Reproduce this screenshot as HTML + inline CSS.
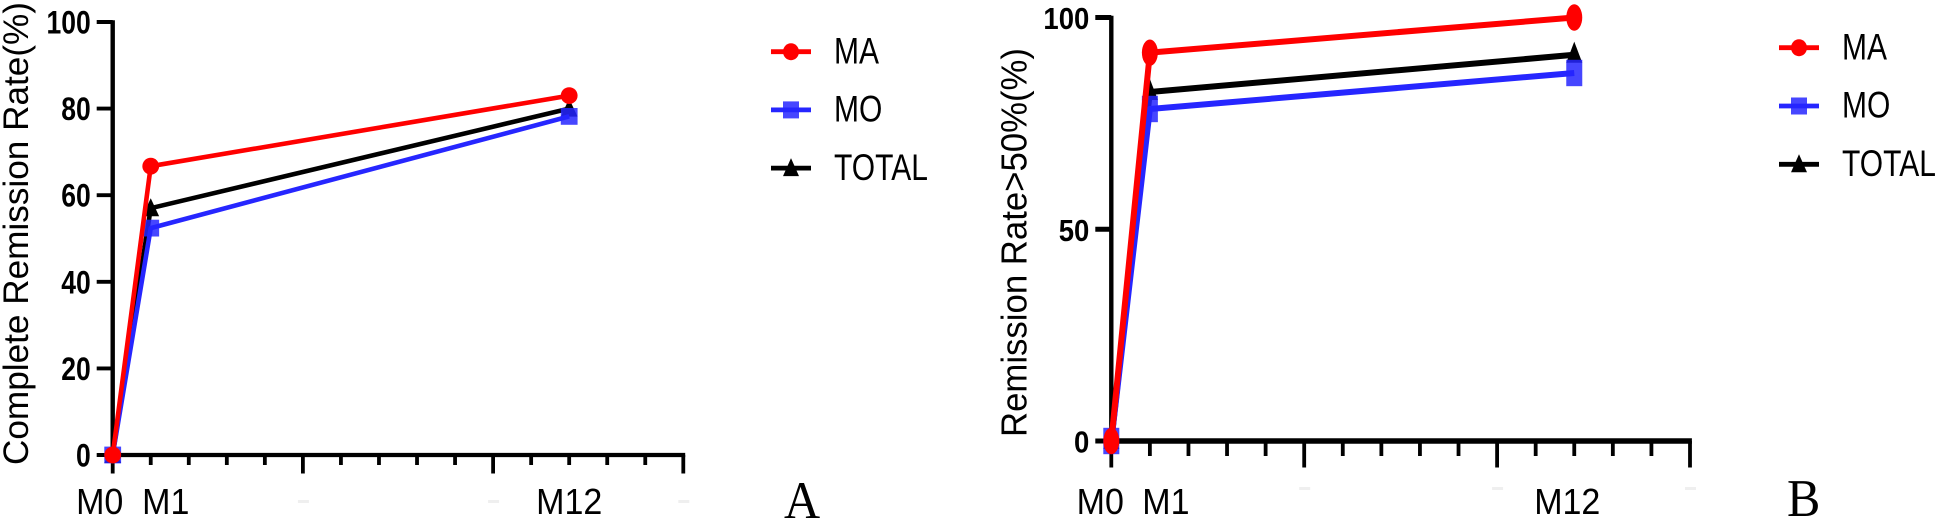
<!DOCTYPE html>
<html lang="en">
<head>
<meta charset="utf-8">
<title>Remission rate charts</title>
<style>
html,body{margin:0;padding:0;background:#fff;width:1943px;height:530px;overflow:hidden}
svg{display:block;font-family:"Liberation Sans",Arial,sans-serif}
</style>
</head>
<body>
<svg id="figure" width="1943" height="530" viewBox="0 0 1943 530" xmlns="http://www.w3.org/2000/svg">
<rect width="1943" height="530" fill="#fff"/>
</svg>
<script>
// ---- data ----
const months = [0, 1, 12];
const monthLabels = ['M0', 'M1', 'M12'];
const seriesNames = ['TOTAL', 'MO', 'MA'];
const legendOrder = ['MA', 'MO', 'TOTAL'];
const completeMA = [0, 66.7, 83];
const completeMO = [0, 52.4, 78.2];
const completeTOTAL = [0, 57, 80];
const partialMA = [0, 91.7, 100];
const partialMO = [0, 78.4, 86.9];
const partialTOTAL = [0, 82.4, 91.2];
const completeYTicks = [0, 20, 40, 60, 80, 100];
const partialYTicks = [0, 50, 100];

// ---- styling and layout ----
const NS = 'http://www.w3.org/2000/svg';
const svg = document.getElementById('figure');
const colors = {MA: '#ff0000', MO: '#2626ff', TOTAL: '#000000'};
const X_MAX = 15, Y_MAX = 100;

function mk(parent, tag, attrs) {
  const el = document.createElementNS(NS, tag);
  for (const k in attrs) el.setAttribute(k, attrs[k]);
  parent.appendChild(el);
  return el;
}
function label(parent, str, x, y, size, sy, extra) {
  const el = mk(parent, 'text', Object.assign({
    transform: 'translate(' + x + ' ' + y + ') scale(1 ' + sy + ')',
    'font-size': size, fill: '#000'
  }, extra || {}));
  el.textContent = str;
  return el;
}
function marker(parent, name, cx, cy, rx, ry) {
  const c = colors[name];
  if (name === 'MA') return mk(parent, 'ellipse', {cx: cx, cy: cy, rx: rx, ry: ry, fill: c});
  if (name === 'MO') return mk(parent, 'rect', {x: cx - rx, y: cy - ry, width: 2 * rx, height: 2 * ry, fill: c, 'fill-opacity': 0.85});
  const up = Math.max(ry, 10), down = Math.min(ry, 8);
  return mk(parent, 'polygon', {points: (cx - rx) + ',' + (cy + down) + ' ' + (cx + rx) + ',' + (cy + down) + ' ' + cx + ',' + (cy - up), fill: c});
}

function drawChart(cfg) {
  const g = mk(svg, 'g', {});
  
  
  const sx = v => cfg.x0 + v * (cfg.x15 - cfg.x0) / X_MAX;
  const sy = v => cfg.y0 + v * (cfg.y100 - cfg.y0) / Y_MAX;

  // x axis
  const xAxis = mk(g, 'g', {stroke: '#000', fill: 'none'});
  
  
  mk(xAxis, 'line', {x1: sx(0) - 1.7, x2: sx(X_MAX) + 1.9, y1: cfg.y0, y2: cfg.y0, 'stroke-width': cfg.xAxisW});
  for (let i = 0; i <= X_MAX; i++) {
    const major = i % 5 === 0;
    mk(xAxis, 'line', {x1: sx(i), x2: sx(i), y1: cfg.y0, y2: major ? cfg.majorEnd : cfg.minorEnd, 'stroke-width': 3.8});
  }
  // y axis
  const yAxis = mk(g, 'g', {stroke: '#000', fill: 'none'});
  
  
  mk(yAxis, 'line', {x1: sx(0), x2: sx(0), y1: sy(Y_MAX) - 1.8, y2: cfg.y0, 'stroke-width': 4.4});
  cfg.yTicks.forEach(t => {
    mk(yAxis, 'line', {x1: sx(0) - 16, x2: sx(0), y1: sy(t), y2: sy(t), 'stroke-width': cfg.yTickW});
    const tl = label(g, String(t), sx(0) - 22, sy(t) + cfg.tickBase, cfg.tickSize, cfg.tickScale, {'text-anchor': 'end', 'font-weight': 'bold'});
    
    
  });
  months.forEach((m, i) => {
    const tl = label(g, monthLabels[i], sx(m) + cfg.xLabelNudge[i], 514, 34, 1.07, {'text-anchor': 'middle'});
    
    
  });
  // faint leftovers of erased tick labels
  cfg.smudges.forEach(v => {
    const s = mk(g, 'rect', {x: sx(v) - 5, y: cfg.smudgeY, width: 11, height: 3, fill: '#efefef'});
    
    
  });

  // axis title
  const title = mk(g, 'text', {
    transform: 'translate(' + cfg.titleX + ' ' + cfg.titleY + ') rotate(-90)',
    'font-size': cfg.titleSize, fill: '#000',
    textLength: cfg.titleLen, lengthAdjust: 'spacingAndGlyphs'
  });
  title.textContent = cfg.title;
  
  

  // series
  seriesNames.forEach(n => {
    const vals = cfg.series[n];
    const sg = mk(g, 'g', {});
    
    
    const pts = months.map((m, i) => sx(m) + ',' + sy(vals[i])).join(' ');
    const line = mk(sg, 'polyline', {points: pts, fill: 'none', stroke: colors[n], 'stroke-width': cfg.lineW, 'stroke-linejoin': 'round'});
    
    
    months.forEach((m, i) => {
      const mark = marker(sg, n, sx(m), sy(vals[i]), cfg.markRx, cfg.markRy);
      
      
    });
  });

  // legend
  const lg = mk(g, 'g', {});
  
  
  legendOrder.forEach((n, i) => {
    const y = cfg.legendY + i * cfg.legendStep;
    const e = mk(lg, 'g', {});
    
    
    mk(e, 'line', {x1: cfg.legendX, x2: cfg.legendX + 40, y1: y, y2: y, stroke: colors[n], 'stroke-width': 4.8});
    marker(e, n, cfg.legendX + 20, y, 8, 8.5);
    const t = label(e, n, cfg.legendX + 63, y + 11.7, 30, 1.24);
    
    
  });

  // panel letter
  const p = label(g, cfg.panel, cfg.panelX, cfg.panelY, 50, 1.06, {'font-family': '"Liberation Serif",serif'});
  
  
}

drawChart({
  name: 'chart-a', panel: 'A', panelX: 784, panelY: 518,
  x0: 112.7, x15: 683.3, y0: 455, y100: 22,
  xAxisW: 4.2, yTickW: 3.9, minorEnd: 465, majorEnd: 473.5,
  tickSize: 26.5, tickScale: 1.22, tickBase: 11.5,
  xLabelNudge: [-13, 15, 0], smudges: [5, 10, 15], smudgeY: 500,
  title: 'Complete Remission Rate(%)', titleX: 28, titleY: 465, titleSize: 35, titleLen: 463,
  yTicks: completeYTicks,
  series: {MA: completeMA, MO: completeMO, TOTAL: completeTOTAL},
  lineW: 4.6, markRx: 8.4, markRy: 8.4,
  legendX: 771, legendY: 51.7, legendStep: 58.2
});

drawChart({
  name: 'chart-b', panel: 'B', panelX: 1787, panelY: 516,
  x0: 1111.3, x15: 1690, y0: 441, y100: 17.5,
  xAxisW: 5.4, yTickW: 5, minorEnd: 456, majorEnd: 467.5,
  tickSize: 27.5, tickScale: 1.12, tickBase: 11.5,
  xLabelNudge: [-11, 16, -7], smudges: [5, 10, 15], smudgeY: 487,
  title: 'Remission Rate>50%(%)', titleX: 1026.5, titleY: 437, titleSize: 36, titleLen: 389,
  yTicks: partialYTicks,
  series: {MA: partialMA, MO: partialMO, TOTAL: partialTOTAL},
  lineW: 6, markRx: 8, markRy: 13.2,
  legendX: 1779, legendY: 47.7, legendStep: 58.3
});
</script>
</body>
</html>
